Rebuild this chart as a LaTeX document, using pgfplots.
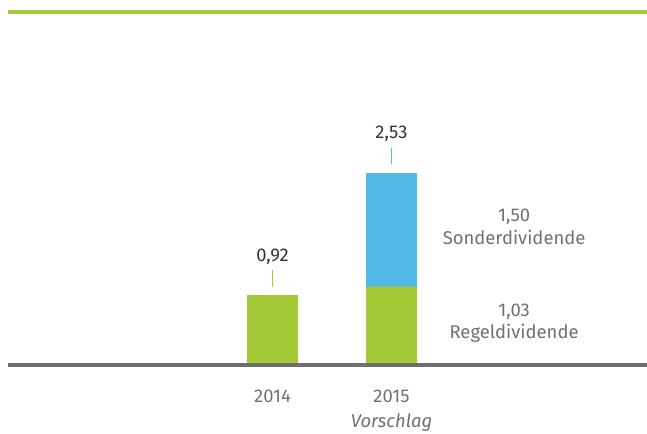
\documentclass[border=0pt]{standalone}
\usepackage{pgfplots}
\pgfplotsset{compat=1.18}
\usepackage{fontspec}
\setmainfont{Fira Sans}
\definecolor{bargreen}{HTML}{A5CA37}
\definecolor{barblue}{HTML}{53B8E8}
\definecolor{basegray}{HTML}{6E6E6E}
\definecolor{txtgray}{HTML}{707070}
\definecolor{txtdark}{HTML}{333333}
\begin{document}
\begin{tikzpicture}
\path[use as bounding box] (0,0) rectangle (647bp,434bp);
\begin{axis}[
  at={(8bp,69bp)}, anchor=south west,
  scale only axis, width=639bp, height=352.5bp,
  xmin=-2.2227, xmax=3.147, ymin=0, ymax=4.638,
  ybar stacked, bar width=51bp,
  hide y axis,
  axis x line=bottom,
  axis line style={basegray, line width=4bp, -},
  axis on top=true,
  xtick={0,1},
  xticklabels={2014,{2015\\[3bp]\textit{Vorschlag}}},
  major tick length=0pt,
  xticklabel style={font=\fontsize{18.5}{23}\selectfont, text=txtgray, align=center, yshift=-21bp},
  clip=false,
]
\addplot[fill=bargreen, draw=none] coordinates {(0,0.92) (1,1.03)};
\addplot[fill=barblue, draw=none] coordinates {(0,0) (1,1.50)};
% top rule
\draw[bargreen, line width=4bp] (axis cs:-2.2227,4.638) -- (axis cs:3.147,4.638);
% value labels
\draw[bargreen, line width=1bp] ([yshift=8bp]axis cs:0,0.92) -- ([yshift=25bp]axis cs:0,0.92);
\node[text=txtdark, font=\fontsize{18.5}{23}\selectfont] at ([yshift=38bp]axis cs:0,0.92) {0,92};
\draw[barblue, line width=1bp] ([yshift=9bp]axis cs:1,2.53) -- ([yshift=25bp]axis cs:1,2.53);
\node[text=txtdark, font=\fontsize{18.5}{23}\selectfont] at ([yshift=39bp]axis cs:1,2.53) {2,53};
% segment labels
\node[text=txtgray, align=center, font=\fontsize{18.5}{23}\selectfont] at (axis cs:2.03,1.82) {1,50\\Sonderdividende};
\node[text=txtgray, align=center, font=\fontsize{18.5}{23}\selectfont] at (axis cs:2.03,0.55) {1,03\\Regeldividende};
\end{axis}
\end{tikzpicture}
\end{document}
